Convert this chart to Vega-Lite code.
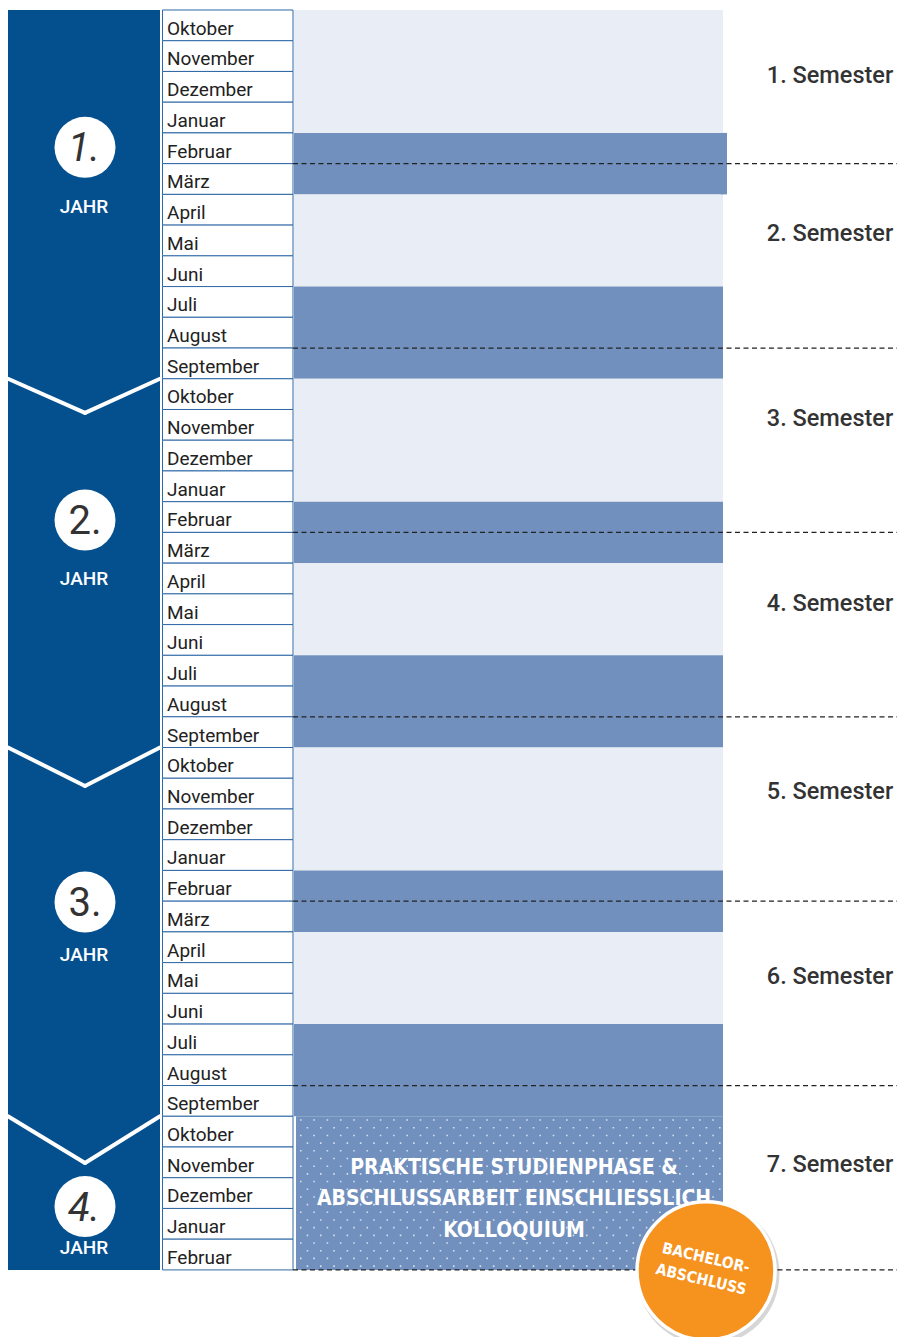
{
  "$schema": "https://vega.github.io/schema/vega-lite/v6.json",
  "width": 897,
  "height": 1337,
  "autosize": {"type": "none"},
  "padding": 0,
  "background": "white",
  "config": {"view": {"stroke": null}, "axis": {"disable": true}},
  "datasets": {
    "studium": [{"t0": 0, "t1": 41}],
    "monate": [
      {"t": 0, "t1": 1, "monat": "Oktober", "jahr": 1},
      {"t": 1, "t1": 2, "monat": "November", "jahr": 1},
      {"t": 2, "t1": 3, "monat": "Dezember", "jahr": 1},
      {"t": 3, "t1": 4, "monat": "Januar", "jahr": 1},
      {"t": 4, "t1": 5, "monat": "Februar", "jahr": 1},
      {"t": 5, "t1": 6, "monat": "März", "jahr": 1},
      {"t": 6, "t1": 7, "monat": "April", "jahr": 1},
      {"t": 7, "t1": 8, "monat": "Mai", "jahr": 1},
      {"t": 8, "t1": 9, "monat": "Juni", "jahr": 1},
      {"t": 9, "t1": 10, "monat": "Juli", "jahr": 1},
      {"t": 10, "t1": 11, "monat": "August", "jahr": 1},
      {"t": 11, "t1": 12, "monat": "September", "jahr": 1},
      {"t": 12, "t1": 13, "monat": "Oktober", "jahr": 2},
      {"t": 13, "t1": 14, "monat": "November", "jahr": 2},
      {"t": 14, "t1": 15, "monat": "Dezember", "jahr": 2},
      {"t": 15, "t1": 16, "monat": "Januar", "jahr": 2},
      {"t": 16, "t1": 17, "monat": "Februar", "jahr": 2},
      {"t": 17, "t1": 18, "monat": "März", "jahr": 2},
      {"t": 18, "t1": 19, "monat": "April", "jahr": 2},
      {"t": 19, "t1": 20, "monat": "Mai", "jahr": 2},
      {"t": 20, "t1": 21, "monat": "Juni", "jahr": 2},
      {"t": 21, "t1": 22, "monat": "Juli", "jahr": 2},
      {"t": 22, "t1": 23, "monat": "August", "jahr": 2},
      {"t": 23, "t1": 24, "monat": "September", "jahr": 2},
      {"t": 24, "t1": 25, "monat": "Oktober", "jahr": 3},
      {"t": 25, "t1": 26, "monat": "November", "jahr": 3},
      {"t": 26, "t1": 27, "monat": "Dezember", "jahr": 3},
      {"t": 27, "t1": 28, "monat": "Januar", "jahr": 3},
      {"t": 28, "t1": 29, "monat": "Februar", "jahr": 3},
      {"t": 29, "t1": 30, "monat": "März", "jahr": 3},
      {"t": 30, "t1": 31, "monat": "April", "jahr": 3},
      {"t": 31, "t1": 32, "monat": "Mai", "jahr": 3},
      {"t": 32, "t1": 33, "monat": "Juni", "jahr": 3},
      {"t": 33, "t1": 34, "monat": "Juli", "jahr": 3},
      {"t": 34, "t1": 35, "monat": "August", "jahr": 3},
      {"t": 35, "t1": 36, "monat": "September", "jahr": 3},
      {"t": 36, "t1": 37, "monat": "Oktober", "jahr": 4},
      {"t": 37, "t1": 38, "monat": "November", "jahr": 4},
      {"t": 38, "t1": 39, "monat": "Dezember", "jahr": 4},
      {"t": 39, "t1": 40, "monat": "Januar", "jahr": 4},
      {"t": 40, "t1": 41, "monat": "Februar", "jahr": 4}
    ],
    "jahre": [
      {"jahr": 1, "nr": "1.", "start": 0, "ende": 12, "kreis": 4.47, "beschr": 6.41, "kursiv": true},
      {"jahr": 2, "nr": "2.", "start": 12, "ende": 24, "tip": 13.11, "kreis": 16.6, "beschr": 18.52, "kursiv": false},
      {"jahr": 3, "nr": "3.", "start": 24, "ende": 36, "tip": 25.25, "kreis": 29.03, "beschr": 30.75, "kursiv": false},
      {"jahr": 4, "nr": "4.", "start": 36, "ende": 41, "tip": 37.52, "kreis": 38.94, "beschr": 40.29, "kursiv": true}
    ],
    "bloecke": [
      {"art": "Vorlesung", "t0": 0, "t1": 4},
      {"art": "Pause", "t0": 4, "t1": 6, "erstes": true},
      {"art": "Vorlesung", "t0": 6, "t1": 9},
      {"art": "Pause", "t0": 9, "t1": 12},
      {"art": "Vorlesung", "t0": 12, "t1": 16},
      {"art": "Pause", "t0": 16, "t1": 18},
      {"art": "Vorlesung", "t0": 18, "t1": 21},
      {"art": "Pause", "t0": 21, "t1": 24},
      {"art": "Vorlesung", "t0": 24, "t1": 28},
      {"art": "Pause", "t0": 28, "t1": 30},
      {"art": "Vorlesung", "t0": 30, "t1": 33},
      {"art": "Pause", "t0": 33, "t1": 36}
    ],
    "praxis": [
      {"t0": 36, "t1": 41, "zeile1": 37.68, "text": ["PRAKTISCHE STUDIENPHASE &", "ABSCHLUSSARBEIT EINSCHLIESSLICH", "KOLLOQUIUM"]}
    ],
    "semester": [
      {"name": "1. Semester", "mitte": 2.15, "ende": 5},
      {"name": "2. Semester", "mitte": 7.29, "ende": 11},
      {"name": "3. Semester", "mitte": 13.31, "ende": 17},
      {"name": "4. Semester", "mitte": 19.33, "ende": 23},
      {"name": "5. Semester", "mitte": 25.45, "ende": 29},
      {"name": "6. Semester", "mitte": 31.47, "ende": 35},
      {"name": "7. Semester", "mitte": 37.59, "ende": 41}
    ],
    "abschluss": [
      {"t": 41.03, "zeile1": 40.61, "text": ["BACHELOR-", "ABSCHLUSS"]}
    ]
  },
  "layer": [
    {
      "data": {"name": "studium"},
      "mark": {"type": "rect", "fill": "#04508f"},
      "encoding": {
        "x": {"datum": 8, "type": "quantitative", "scale": {"domain": [0, 897], "nice": false, "zero": false}, "axis": null},
        "x2": {"datum": 160},
        "y": {"field": "t0", "type": "quantitative", "scale": {"domain": [-0.3254, 43.183], "reverse": true, "nice": false, "zero": false}, "axis": null},
        "y2": {"field": "t1"}
      }
    },
    {
      "data": {"name": "jahre"},
      "transform": [{"filter": "datum.jahr > 1"}],
      "mark": {"type": "rule", "color": "white", "strokeWidth": 4, "strokeCap": "round"},
      "encoding": {
        "x": {"datum": 8, "type": "quantitative"},
        "x2": {"datum": 85},
        "y": {"field": "start", "type": "quantitative"},
        "y2": {"field": "tip"}
      }
    },
    {
      "data": {"name": "jahre"},
      "transform": [{"filter": "datum.jahr > 1"}],
      "mark": {"type": "rule", "color": "white", "strokeWidth": 4, "strokeCap": "round"},
      "encoding": {
        "x": {"datum": 85, "type": "quantitative"},
        "x2": {"datum": 160},
        "y": {"field": "tip", "type": "quantitative"},
        "y2": {"field": "start"}
      }
    },
    {
      "data": {"name": "jahre"},
      "mark": {"type": "point", "shape": "circle", "filled": true, "fill": "white", "opacity": 1, "size": 3720},
      "encoding": {
        "x": {"datum": 85, "type": "quantitative"},
        "y": {"field": "kreis", "type": "quantitative"}
      }
    },
    {
      "data": {"name": "jahre"},
      "transform": [{"filter": "datum.kursiv"}],
      "mark": {"type": "text", "font": "Roboto", "fontSize": 40, "fontWeight": 400, "fontStyle": "italic", "fill": "#333333", "align": "center", "baseline": "middle", "dy": 2},
      "encoding": {
        "x": {"datum": 84, "type": "quantitative"},
        "y": {"field": "kreis", "type": "quantitative"},
        "text": {"field": "nr"}
      }
    },
    {
      "data": {"name": "jahre"},
      "transform": [{"filter": "!datum.kursiv"}],
      "mark": {"type": "text", "font": "Roboto", "fontSize": 40, "fontWeight": 400, "fill": "#333333", "align": "center", "baseline": "middle", "dy": 2},
      "encoding": {
        "x": {"datum": 85, "type": "quantitative"},
        "y": {"field": "kreis", "type": "quantitative"},
        "text": {"field": "nr"}
      }
    },
    {
      "data": {"name": "jahre"},
      "mark": {"type": "text", "font": "Roboto", "fontSize": 19, "fontWeight": 500, "fill": "white", "align": "center", "baseline": "middle", "text": "JAHR"},
      "encoding": {
        "x": {"datum": 84, "type": "quantitative"},
        "y": {"field": "beschr", "type": "quantitative"}
      }
    },
    {
      "data": {"name": "monate"},
      "mark": {"type": "rect", "fill": "white", "stroke": "#2f68a6", "strokeWidth": 1},
      "encoding": {
        "x": {"datum": 162.5, "type": "quantitative"},
        "x2": {"datum": 293},
        "y": {"field": "t", "type": "quantitative"},
        "y2": {"field": "t1"}
      }
    },
    {
      "data": {"name": "monate"},
      "mark": {"type": "text", "font": "Roboto", "fontSize": 19, "fill": "#222222", "align": "left", "baseline": "alphabetic", "dy": -6},
      "encoding": {
        "x": {"datum": 167, "type": "quantitative"},
        "y": {"field": "t1", "type": "quantitative"},
        "text": {"field": "monat"}
      }
    },
    {
      "data": {"name": "bloecke"},
      "mark": {"type": "rect"},
      "encoding": {
        "x": {"datum": 294, "type": "quantitative"},
        "x2": {"datum": 723},
        "y": {"field": "t0", "type": "quantitative"},
        "y2": {"field": "t1"},
        "fill": {"condition": {"test": "datum.art === 'Pause'", "value": "#7190bd"}, "value": "#e8edf6"}
      }
    },
    {
      "data": {"name": "bloecke"},
      "transform": [{"filter": "datum.erstes === true"}],
      "mark": {"type": "rect", "fill": "#7190bd"},
      "encoding": {
        "x": {"datum": 721, "type": "quantitative"},
        "x2": {"datum": 727},
        "y": {"field": "t0", "type": "quantitative"},
        "y2": {"field": "t1"}
      }
    },
    {
      "data": {"name": "praxis"},
      "mark": {"type": "rect", "fill": "#7190bd"},
      "encoding": {
        "x": {"datum": 296, "type": "quantitative"},
        "x2": {"datum": 723},
        "y": {"field": "t0", "type": "quantitative"},
        "y2": {"field": "t1"}
      }
    },
    {
      "data": {"name": "monate"},
      "transform": [{"filter": "datum.jahr === 4"}],
      "mark": {"type": "rule", "color": "#d3e0f2", "strokeWidth": 1.6, "strokeDash": [1.6, 11.7], "strokeDashOffset": 0},
      "encoding": {
        "x": {"datum": 300, "type": "quantitative"},
        "x2": {"datum": 722},
        "y": {"field": "t", "type": "quantitative"},
        "yOffset": {"value": 3.8}
      }
    },
    {
      "data": {"name": "monate"},
      "transform": [{"filter": "datum.jahr === 4"}],
      "mark": {"type": "rule", "color": "#d3e0f2", "strokeWidth": 1.6, "strokeDash": [1.6, 11.7], "strokeDashOffset": 6.65},
      "encoding": {
        "x": {"datum": 300, "type": "quantitative"},
        "x2": {"datum": 722},
        "y": {"field": "t", "type": "quantitative"},
        "yOffset": {"value": 11.5}
      }
    },
    {
      "data": {"name": "monate"},
      "transform": [{"filter": "datum.jahr === 4"}],
      "mark": {"type": "rule", "color": "#d3e0f2", "strokeWidth": 1.6, "strokeDash": [1.6, 11.7], "strokeDashOffset": 0},
      "encoding": {
        "x": {"datum": 300, "type": "quantitative"},
        "x2": {"datum": 722},
        "y": {"field": "t", "type": "quantitative"},
        "yOffset": {"value": 19.2}
      }
    },
    {
      "data": {"name": "monate"},
      "transform": [{"filter": "datum.jahr === 4"}],
      "mark": {"type": "rule", "color": "#d3e0f2", "strokeWidth": 1.6, "strokeDash": [1.6, 11.7], "strokeDashOffset": 6.65},
      "encoding": {
        "x": {"datum": 300, "type": "quantitative"},
        "x2": {"datum": 722},
        "y": {"field": "t", "type": "quantitative"},
        "yOffset": {"value": 26.9}
      }
    },
    {
      "data": {"name": "praxis"},
      "mark": {"type": "text", "font": "DejaVu Sans Condensed, Liberation Sans Narrow, sans-serif", "fontSize": 21, "fontWeight": "bold", "fill": "white", "align": "center", "baseline": "middle", "lineHeight": 31.5},
      "encoding": {
        "x": {"datum": 514, "type": "quantitative"},
        "y": {"field": "zeile1", "type": "quantitative"},
        "text": {"field": "text"}
      }
    },
    {
      "data": {"name": "semester"},
      "mark": {"type": "rule", "color": "#222222", "strokeWidth": 1.2, "strokeDash": [5, 3.5]},
      "encoding": {
        "x": {"datum": 293, "type": "quantitative"},
        "x2": {"datum": 897},
        "y": {"field": "ende", "type": "quantitative"}
      }
    },
    {
      "data": {"name": "semester"},
      "mark": {"type": "text", "font": "Roboto", "fontSize": 23.5, "fontWeight": 500, "fill": "#333333", "align": "center", "baseline": "middle"},
      "encoding": {
        "x": {"datum": 830, "type": "quantitative"},
        "y": {"field": "mitte", "type": "quantitative"},
        "text": {"field": "name"}
      }
    },
    {
      "data": {"name": "abschluss"},
      "mark": {"type": "point", "shape": "circle", "filled": true, "fill": "#000000", "opacity": 0.16, "size": 20450},
      "encoding": {
        "x": {"datum": 708, "type": "quantitative"},
        "y": {"field": "t", "type": "quantitative"},
        "yOffset": {"value": 3}
      }
    },
    {
      "data": {"name": "abschluss"},
      "mark": {"type": "point", "shape": "circle", "filled": true, "fill": "#f6921e", "opacity": 1, "stroke": "white", "strokeWidth": 3.5, "size": 19040},
      "encoding": {
        "x": {"datum": 706, "type": "quantitative"},
        "y": {"field": "t", "type": "quantitative"}
      }
    },
    {
      "data": {"name": "abschluss"},
      "mark": {"type": "text", "font": "DejaVu Sans Condensed, Liberation Sans Narrow, sans-serif", "fontSize": 15.5, "fontWeight": "bold", "fill": "white", "align": "center", "baseline": "middle", "lineHeight": 22, "angle": 13},
      "encoding": {
        "x": {"datum": 706, "type": "quantitative"},
        "y": {"field": "zeile1", "type": "quantitative"},
        "text": {"field": "text"}
      }
    }
  ]
}
